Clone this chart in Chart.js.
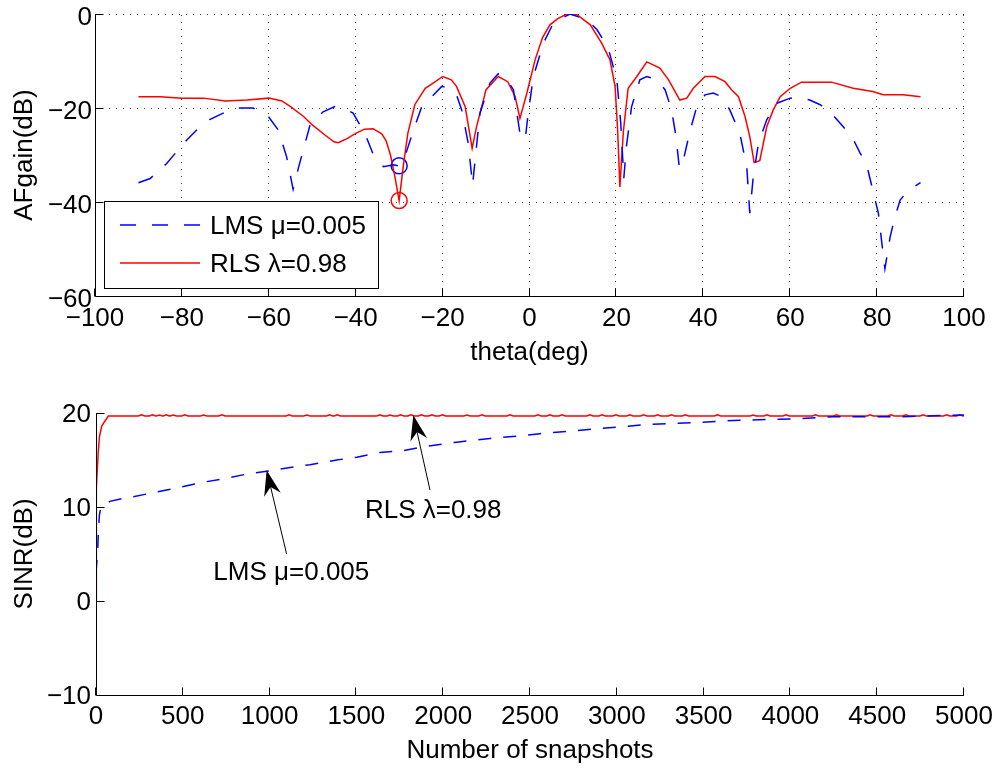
<!DOCTYPE html>
<html>
<head>
<meta charset="utf-8">
<script src="https://cdn.jsdelivr.net/npm/chart.js@4.4.0/dist/chart.umd.min.js"></script>
<style>
  html, body { margin: 0; padding: 0; background: #fff; }
  #wrap { position: relative; width: 997px; height: 768px; overflow: hidden; }
  canvas { position: absolute; left: 0; }
  #afChart { top: 0; }
  #sinrChart { top: 380px; }
</style>
</head>
<body>
<div id="wrap">
  <canvas id="afChart" width="997" height="370"></canvas>
  <canvas id="sinrChart" width="997" height="388"></canvas>
</div>
<script>
const FONT = "'Liberation Sans', Arial, Helvetica, sans-serif";
const BLUE = '#0000ff';
const RED = '#ff0000';

const seriesLabels = ['LMS \u03bc=0.005', 'RLS \u03bb=0.98'];

// --- top plot: array factor gain (dB) vs theta (deg)
const thetaTicks = [-100, -80, -60, -40, -20, 0, 20, 40, 60, 80, 100];
const gainTicks = [-60, -40, -20, 0];

const lmsTheta = [
  -90, -87.3, -83.5, -79.3, -76.6, -73.5, -70.5, -67.4, -63.6, -60.1,
  -57.8, -55.9, -54.4, -53.2, -50.5, -47.5, -44.8, -42.5, -40.6, -37.9,
  -35.9, -33.6, -31.3, -30.2, -28.7, -26.7, -24.8, -22.5, -20.2, -18.5,
  -16.8, -15.6, -14.1, -13.1, -12.2, -11.4, -9.1, -7.2, -5.2, -3.7,
  -2.2, -1.0, -0.3, 0.9, 3.2, 5.5, 9.3, 13.2, 15.5, 18.1,
  20.1, 21.0, 21.7, 22.3, 23.5, 25.4, 27.0, 29.3, 31.2, 32.7,
  33.7, 34.5, 35.4, 37.0, 38.5, 40.4, 42.3, 44.2, 46.1, 48.4,
  50.0, 50.7, 51.5, 52.7, 54.6, 56.9, 60.0, 61.9, 64.5, 66.9,
  69.2, 72.2, 74.2, 76.1, 77.6, 79.2, 80.3, 81.1, 81.8, 83.0,
  84.1, 85.3, 87.2, 90
];
const lmsGain = [
  -35.9, -35.0, -31.8, -27.2, -24.7, -22.4, -21.1, -20.0, -20.0, -21.8,
  -24.7, -30.4, -37.3, -32.8, -23.6, -20.8, -19.7, -20.1, -21.1, -25.4,
  -30.0, -32.5, -32.1, -32.3, -30.4, -24.7, -19.7, -17.6, -15.4, -15.8,
  -17.2, -20.4, -27.5, -36.4, -28.2, -21.1, -14.7, -12.7, -14.0, -16.1,
  -25.4, -26.8, -21.1, -13.3, -6.2, -1.9, 0, -1.2, -3.3, -7.2,
  -14.0, -23.2, -35.0, -28.2, -19.7, -14.0, -13.3, -14.0, -16.1, -20.4,
  -26.0, -32.8, -31.1, -24.7, -19.7, -17.2, -16.8, -17.6, -20.4, -25.4,
  -32.5, -42.4, -34.6, -27.5, -22.5, -19.0, -17.9, -17.7, -18.3, -19.3,
  -20.8, -24.0, -26.1, -29.6, -32.1, -38.2, -42.4, -48.8, -54.2, -47.4,
  -43.2, -39.6, -37.5, -35.9
];

const rlsTheta = [
  -90, -85, -80, -75, -70, -65, -60, -57, -55, -52,
  -50, -47, -45, -44, -42, -40, -38, -36, -34, -33,
  -32, -31, -30, -29, -28, -26.4, -24, -22, -20, -18,
  -16.8, -14.8, -13.2, -12.2, -10, -7.2, -5, -3.3, -2.2, -0.6,
  1.3, 3, 4.7, 6.5, 8.6, 10.9, 14, 16.6, 18.5, 19.7,
  20.3, 20.8, 21.6, 22.7, 24.7, 27, 30, 32, 34.6, 36.2,
  37.7, 40.4, 42.7, 45, 46.5, 48.1, 49.6, 50.7, 51.7, 53,
  54.6, 56.1, 57.7, 60, 62.6, 69.5, 74.5, 79, 81.4, 86,
  90
];
const rlsGain = [
  -17.6, -17.6, -17.9, -17.9, -18.5, -18.3, -17.9, -18.5, -19.7, -21.8,
  -23.6, -25.8, -27.2, -27.4, -26.5, -25.4, -24.5, -24.4, -25.5, -27.0,
  -30.0, -34.5, -39.7, -32.0, -25.4, -19.3, -15.8, -14.6, -13.3, -14.0,
  -15.4, -19.7, -28.6, -24.0, -16.1, -13.3, -14.4, -17.6, -22.2, -16.8,
  -9.7, -5.0, -2.3, -1.0, 0, -0.15, -2.3, -6.2, -9.7, -15.4,
  -25.0, -36.8, -25.0, -15.8, -13.3, -10.2, -11.5, -14.0, -18.3, -17.9,
  -15.8, -13.3, -13.3, -14.4, -16.1, -17.6, -21.8, -26.1, -31.6, -31.2,
  -24.0, -20.4, -17.6, -15.8, -14.5, -14.5, -15.8, -16.5, -17.2, -17.2,
  -17.6
];

// circled null at the interferer direction
const nullTheta = [-30];
const lmsNullGain = [-32.3];
const rlsNullGain = [-39.7];

// --- bottom plot: output SINR vs number of snapshots
const snapshotTicks = [0, 500, 1000, 1500, 2000, 2500, 3000, 3500, 4000, 4500, 5000];
const sinrTicks = [-10, 0, 10, 20];

const lmsSnapshots = [
  0, 10, 14, 20, 26, 42, 80, 150, 215, 350, 484, 638, 733, 868, 983, 1118, 1233, 1386,
  1502, 1636, 1770, 1886, 2078, 2270, 2400, 2558, 2808, 3000, 3191, 3479, 3671, 3863,
  4055, 4247, 4631, 5000
];
const lmsSinr = [
  3.0, 5.5, 7.6, 9.2, 9.8, 10.0, 10.6, 10.9, 11.1, 11.6, 12.1, 12.7, 13.0, 13.5, 13.8, 14.2, 14.5, 15.0,
  15.3, 15.8, 16.0, 16.4, 16.9, 17.3, 17.5, 17.8, 18.2, 18.5, 18.8, 19.0, 19.2, 19.3,
  19.4, 19.6, 19.6, 19.8
];

const rlsSnapshots = [
  0, 2, 13, 20, 33, 50, 71,
  244, 262, 280, 307, 325, 343, 347, 365, 383, 387, 405, 423, 427, 445, 463,
  494, 512, 530, 602, 620, 638, 707, 725, 743, 1094, 1112, 1130, 1197, 1215, 1233,
  1327, 1345, 1363, 1372, 1390, 1408, 1617, 1635, 1653, 1677, 1695, 1713, 1737, 1755, 1773,
  1797, 1815, 1833, 1857, 1875, 1893, 1917, 1935, 1953, 1977, 1995, 2013, 2119, 2137, 2155,
  2205, 2223, 2241, 2367, 2385, 2403, 2527, 2545, 2563, 2597, 2615, 2633, 2667, 2685, 2703,
  2827, 2845, 2863, 2897, 2915, 2933, 2977, 2995, 3013, 3057, 3075, 3093, 3137, 3155, 3173,
  3217, 3235, 3253, 3297, 3315, 3333, 3377, 3395, 3413, 3562, 3580, 3598, 3767, 3785, 3803,
  3847, 3865, 3883, 3957, 3975, 3993, 4127, 4145, 4163, 4247, 4265, 4283, 4442, 4460, 4478,
  4562, 4580, 4598, 4647, 4665, 4683, 4747, 4765, 4783, 4882, 4900, 4918, 4957, 4975, 4993,
  5000
];
const rlsSinr = [
  0, 12.0, 15.9, 17.5, 18.6, 19.1, 19.68,
  19.68, 19.8, 19.68, 19.68, 19.8, 19.68, 19.68, 19.78, 19.68, 19.68, 19.8, 19.68, 19.68, 19.78, 19.68,
  19.68, 19.8, 19.68, 19.68, 19.78, 19.68, 19.68, 19.8, 19.68, 19.68, 19.8, 19.68, 19.68, 19.78, 19.68,
  19.68, 19.8, 19.68, 19.68, 19.8, 19.68, 19.68, 19.8, 19.68, 19.68, 19.78, 19.68, 19.68, 19.8, 19.68,
  19.68, 19.8, 19.68, 19.68, 19.8, 19.68, 19.68, 19.8, 19.68, 19.68, 19.8, 19.68, 19.68, 19.78, 19.68,
  19.68, 19.8, 19.68, 19.68, 19.8, 19.68, 19.68, 19.8, 19.68, 19.68, 19.8, 19.68, 19.68, 19.8, 19.68,
  19.68, 19.8, 19.68, 19.68, 19.8, 19.68, 19.68, 19.8, 19.68, 19.68, 19.8, 19.68, 19.68, 19.8, 19.68,
  19.68, 19.8, 19.68, 19.68, 19.8, 19.68, 19.68, 19.8, 19.68, 19.68, 19.8, 19.68, 19.68, 19.78, 19.68,
  19.68, 19.8, 19.68, 19.68, 19.8, 19.68, 19.68, 19.8, 19.68, 19.68, 19.8, 19.68, 19.68, 19.8, 19.68,
  19.68, 19.8, 19.68, 19.68, 19.8, 19.68, 19.68, 19.8, 19.68, 19.68, 19.8, 19.68, 19.68, 19.8, 19.68,
  19.72
];

// text arrows on the SINR plot, in data coordinates
const sinrNotes = [
  { text: seriesLabels[1], at: [1549, 8.87], tail: [1924, 11.8], tip: [1828, 19.75] },
  { text: seriesLabels[0], at: [676, 2.22], tail: [1098, 5.0], tip: [983, 13.9] }
];

Chart.defaults.font.family = FONT;
Chart.defaults.font.size = 26;
Chart.defaults.color = '#000';

function zip(xs, ys) {
  return xs.map((x, i) => ({ x, y: ys[i] }));
}

function minusSign(v) {
  return String(v).replace('-', '\u2212');
}

// MATLAB look: dotted grid, solid left/bottom axes, ticks pointing inward
const matlabAxes = {
  id: 'matlabAxes',
  beforeDatasetsDraw(chart, args, opts) {
    if (!opts.grid) return;
    const { ctx, chartArea: a, scales: { x, y } } = chart;
    ctx.save();
    ctx.strokeStyle = '#3c3c3c';
    ctx.lineWidth = 1;
    ctx.setLineDash([1, 6]);
    ctx.beginPath();
    x.ticks.forEach((t) => {
      if (t.value === x.min) return;
      const px = Math.round(x.getPixelForValue(t.value)) - 0.5;
      ctx.moveTo(px, a.bottom);
      ctx.lineTo(px, a.top);
    });
    y.ticks.forEach((t) => {
      if (t.value === y.min) return;
      const py = Math.round(y.getPixelForValue(t.value)) + 0.5;
      ctx.moveTo(a.left, py);
      ctx.lineTo(a.right, py);
    });
    ctx.stroke();
    ctx.restore();
  },
  afterDatasetsDraw(chart) {
    const { ctx, chartArea: a, scales: { x, y } } = chart;
    const len = 8;
    const bx = Math.round(a.left) + 0.5;
    const by = Math.round(a.bottom) + 0.5;
    ctx.save();
    ctx.strokeStyle = '#000';
    ctx.lineWidth = 1;
    ctx.beginPath();
    ctx.moveTo(bx, a.top);
    ctx.lineTo(bx, by);
    ctx.lineTo(a.right, by);
    x.ticks.forEach((t) => {
      const px = Math.round(x.getPixelForValue(t.value)) - 0.5;
      ctx.moveTo(px, by);
      ctx.lineTo(px, by - len);
    });
    y.ticks.forEach((t) => {
      const py = Math.round(y.getPixelForValue(t.value)) + 0.5;
      ctx.moveTo(bx, py);
      ctx.lineTo(bx + len, py);
    });
    ctx.stroke();
    ctx.restore();
  }
};

// boxed legend in the lower left corner of the AF plot
const afLegend = {
  id: 'afLegend',
  afterDatasetsDraw(chart) {
    const { ctx, chartArea: a } = chart;
    const x0 = Math.round(a.left) + 9;
    const y0 = Math.round(a.bottom) - 95;
    const w = 274;
    const h = 87;
    ctx.save();
    ctx.fillStyle = '#fff';
    ctx.fillRect(x0, y0, w, h);
    ctx.strokeStyle = '#000';
    ctx.lineWidth = 1;
    ctx.strokeRect(x0 + 0.5, y0 + 0.5, w, h);

    const rows = [
      { color: BLUE, dash: [16, 16], label: seriesLabels[0], dy: 24 },
      { color: RED, dash: [], label: seriesLabels[1], dy: 62 }
    ];
    ctx.font = '26px ' + FONT;
    ctx.textBaseline = 'middle';
    ctx.textAlign = 'left';
    rows.forEach((r) => {
      ctx.strokeStyle = r.color;
      ctx.lineWidth = 1.5;
      ctx.setLineDash(r.dash);
      ctx.beginPath();
      ctx.moveTo(x0 + 16, y0 + r.dy);
      ctx.lineTo(x0 + 96, y0 + r.dy);
      ctx.stroke();
      ctx.fillStyle = '#000';
      ctx.fillText(r.label, x0 + 106, y0 + r.dy + 1.5);
    });
    ctx.restore();
  }
};

// text with arrows pointing at the curves
const arrowNotes = {
  id: 'arrowNotes',
  afterDatasetsDraw(chart, args, opts) {
    const { ctx, scales: { x, y } } = chart;
    const headLen = 25;
    const headHalf = 8.5;
    const notch = 17;
    ctx.save();
    ctx.fillStyle = '#000';
    ctx.strokeStyle = '#000';
    ctx.lineWidth = 1;
    (opts.items || []).forEach((n) => {
      const sx = x.getPixelForValue(n.tail[0]);
      const sy = y.getPixelForValue(n.tail[1]);
      const tx = x.getPixelForValue(n.tip[0]);
      const ty = y.getPixelForValue(n.tip[1]);
      const ang = Math.atan2(ty - sy, tx - sx);
      const c = Math.cos(ang);
      const s = Math.sin(ang);
      ctx.beginPath();
      ctx.moveTo(sx, sy);
      ctx.lineTo(tx - notch * c, ty - notch * s);
      ctx.stroke();
      ctx.beginPath();
      ctx.moveTo(tx, ty);
      ctx.lineTo(tx - headLen * c + headHalf * s, ty - headLen * s - headHalf * c);
      ctx.lineTo(tx - notch * c, ty - notch * s);
      ctx.lineTo(tx - headLen * c - headHalf * s, ty - headLen * s + headHalf * c);
      ctx.closePath();
      ctx.fill();

      ctx.font = '26px ' + FONT;
      ctx.textAlign = 'left';
      ctx.textBaseline = 'alphabetic';
      ctx.fillText(n.text, x.getPixelForValue(n.at[0]), y.getPixelForValue(n.at[1]));
    });
    ctx.restore();
  }
};

function axisOptions({ min, max, ticks, size, isX, title, titlePad, padding, labelOffset }) {
  return {
    type: 'linear',
    min,
    max,
    afterBuildTicks: (s) => {
      s.ticks = ticks.map((v) => ({ value: v }));
    },
    afterFit: (s) => {
      // fixed box sizes so the plot area lands where the original has it
      if (isX) {
        s.height = size;
        s.paddingLeft = 0;
        s.paddingRight = 0;
      } else {
        s.width = size;
        s.paddingTop = 0;
        s.paddingBottom = 0;
      }
    },
    grid: { display: false, drawTicks: false },
    border: { display: false },
    ticks: {
      padding,
      labelOffset: labelOffset || 0,
      autoSkip: false,
      maxRotation: 0,
      callback: minusSign,
      font: { size: 26, lineHeight: 1 }
    },
    title: {
      display: true,
      text: title,
      padding: isX ? { top: 0, bottom: titlePad } : { top: titlePad, bottom: 0 },
      font: { size: 26, lineHeight: 1.2 }
    }
  };
}

const baseOptions = {
  responsive: false,
  animation: false,
  devicePixelRatio: 1,
  events: []
};

new Chart(document.getElementById('afChart'), {
  type: 'scatter',
  data: {
    datasets: [
      { label: seriesLabels[0], data: zip(lmsTheta, lmsGain), showLine: true, borderColor: BLUE, borderWidth: 1.5, borderDash: [16, 16], pointRadius: 0 },
      { label: seriesLabels[1], data: zip(rlsTheta, rlsGain), showLine: true, borderColor: RED, borderWidth: 1.5, pointRadius: 0 },
      { data: zip(nullTheta, lmsNullGain), showLine: false, pointRadius: 8, pointBorderColor: BLUE, pointBackgroundColor: 'rgba(0,0,0,0)', pointBorderWidth: 1.5 },
      { data: zip(nullTheta, rlsNullGain), showLine: false, pointRadius: 8, pointBorderColor: RED, pointBackgroundColor: 'rgba(0,0,0,0)', pointBorderWidth: 1.5 }
    ]
  },
  options: {
    ...baseOptions,
    layout: { padding: { top: 14, right: 33, left: 0, bottom: 0 } },
    plugins: {
      legend: { display: false },
      tooltip: { enabled: false },
      matlabAxes: { grid: true }
    },
    scales: {
      x: axisOptions({ min: -100, max: 100, ticks: thetaTicks, size: 74, isX: true, title: 'theta(deg)', titlePad: 2, padding: 10 }),
      y: axisOptions({ min: -60, max: 0, ticks: gainTicks, size: 95, isX: false, title: 'AFgain(dB)', titlePad: 9, padding: 3, labelOffset: 3.5 })
    }
  },
  plugins: [matlabAxes, afLegend]
});

new Chart(document.getElementById('sinrChart'), {
  type: 'scatter',
  data: {
    datasets: [
      { label: seriesLabels[0], data: zip(lmsSnapshots, lmsSinr), showLine: true, borderColor: BLUE, borderWidth: 1.5, borderDash: [13, 12], pointRadius: 0 },
      { label: seriesLabels[1], data: zip(rlsSnapshots, rlsSinr), showLine: true, borderColor: RED, borderWidth: 1.5, pointRadius: 0 }
    ]
  },
  options: {
    ...baseOptions,
    layout: { padding: { top: 33, right: 33, left: 0, bottom: 0 } },
    plugins: {
      legend: { display: false },
      tooltip: { enabled: false },
      matlabAxes: { grid: false },
      arrowNotes: { items: sinrNotes }
    },
    scales: {
      x: axisOptions({ min: 0, max: 5000, ticks: snapshotTicks, size: 73, isX: true, title: 'Number of snapshots', titlePad: 2, padding: 9 }),
      y: axisOptions({ min: -10, max: 20, ticks: sinrTicks, size: 96, isX: false, title: 'SINR(dB)', titlePad: 9, padding: 5, labelOffset: 2 })
    }
  },
  plugins: [matlabAxes, arrowNotes]
});
</script>
</body>
</html>
